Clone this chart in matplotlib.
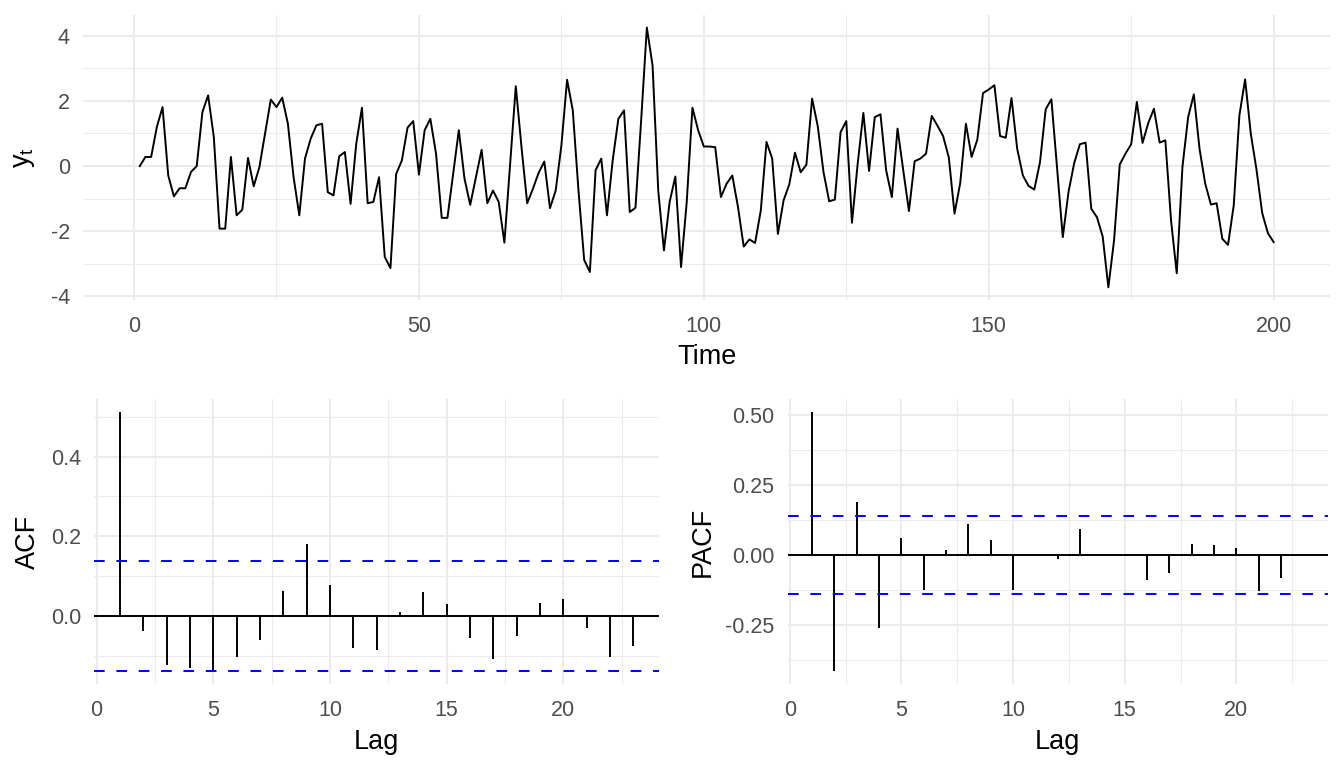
import numpy as np
import matplotlib
matplotlib.use('Agg')
import matplotlib.pyplot as plt
from matplotlib.ticker import MultipleLocator, FixedLocator

plt.rcParams['font.family'] = ['Liberation Sans', 'DejaVu Sans']
plt.rcParams['axes.unicode_minus'] = False
plt.rcParams['mathtext.fontset'] = 'custom'
plt.rcParams['mathtext.rm'] = 'Liberation Sans'

# series y_t, t = 1..200
y_vals = [
    0.0, 0.28, 0.28, 1.2, 1.81, -0.29, -0.93, -0.68, -0.68, -0.18,
    0.0, 1.66, 2.17, 0.89, -1.92, -1.92, 0.28, -1.51, -1.34, 0.25,
    -0.62, -0.03, 1.0, 2.04, 1.81, 2.1, 1.3, -0.34, -1.51, 0.23,
    0.84, 1.25, 1.3, -0.8, -0.9, 0.3, 0.43, -1.16, 0.69, 1.79,
    -1.14, -1.1, -0.34, -2.79, -3.13, -0.24, 0.17, 1.18, 1.38, -0.26,
    1.1, 1.45, 0.38, -1.59, -1.59, -0.24, 1.1, -0.39, -1.19, -0.34,
    0.5, -1.14, -0.75, -1.1, -2.35, 0.07, 2.45, 0.58, -1.14, -0.7,
    -0.21, 0.14, -1.29, -0.75, 0.63, 2.65, 1.71, -0.75, -2.88, -3.25,
    -0.13, 0.23, -1.51, 0.17, 1.45, 1.71, -1.41, -1.28, 1.4, 4.25,
    3.09, -0.75, -2.59, -1.1, -0.32, -3.1, -1.1, 1.79, 1.1, 0.6,
    0.6, 0.58, -0.95, -0.54, -0.29, -1.26, -2.47, -2.25, -2.36, -1.36,
    0.74, 0.23, -2.08, -1.05, -0.56, 0.41, -0.19, 0.04, 2.07, 1.22,
    -0.18, -1.08, -1.03, 1.04, 1.38, -1.74, 0.07, 1.63, -0.15, 1.5,
    1.59, -0.13, -0.95, 1.15, -0.13, -1.38, 0.15, 0.23, 0.38, 1.54,
    1.24, 0.92, 0.26, -1.46, -0.52, 1.3, 0.28, 0.81, 2.24, 2.35,
    2.48, 0.92, 0.87, 2.09, 0.53, -0.29, -0.61, -0.72, 0.12, 1.74,
    2.05, -0.06, -2.18, -0.8, 0.09, 0.67, 0.72, -1.31, -1.57, -2.16,
    -3.72, -2.28, 0.05, 0.38, 0.67, 1.97, 0.71, 1.32, 1.76, 0.72,
    0.79, -1.67, -3.29, -0.03, 1.5, 2.2, 0.53, -0.54, -1.18, -1.14,
    -2.23, -2.42, -1.21, 1.56, 2.66, 0.99, -0.11, -1.44, -2.06, -2.33,
]
time = np.arange(1, len(y_vals) + 1)

lags = np.arange(1, 24)
acf_vals = [0.513, -0.038, -0.124, -0.131, -0.137, -0.103, -0.060, 0.064, 0.182, 0.077,
            -0.081, -0.085, 0.010, 0.061, 0.029, -0.055, -0.108, -0.051, 0.033, 0.044,
            -0.029, -0.103, -0.074]
pacf_vals = [0.512, -0.414, 0.188, -0.258, 0.063, -0.125, 0.020, 0.111, 0.054, -0.123,
             0.0, -0.012, 0.092, 0.0, 0.0, -0.089, -0.065, 0.039, 0.035, 0.025,
             -0.129, -0.083, 0.0]
ci = 1.96 / np.sqrt(len(y_vals))

grid_col = '#EBEBEB'
tick_col = '#4D4D4D'
TICK_FS = 15.5
TITLE_FS = 19.5


def style(ax):
    for s in ax.spines.values():
        s.set_visible(False)
    ax.grid(which='major', color=grid_col, lw=1.5)
    ax.grid(which='minor', color=grid_col, lw=0.8)
    ax.set_axisbelow(True)
    ax.tick_params(which='both', length=0, labelsize=TICK_FS, labelcolor=tick_col)
    ax.tick_params(axis='x', pad=11.5)
    ax.tick_params(axis='y', pad=9.5)


def expand(lo, hi, f=0.05):
    d = (hi - lo) * f
    return lo - d, hi + d


fig = plt.figure(figsize=(13.44, 7.68), dpi=100)

# time series
ax1 = fig.add_axes([0.0618, 0.609, 0.928, 0.372])
ax1.plot(time, y_vals, color='black', lw=1.4)
ax1.set_xlim(*expand(time.min(), time.max()))
ax1.set_ylim(*expand(min(y_vals), max(y_vals)))
ax1.xaxis.set_major_locator(MultipleLocator(50))
ax1.xaxis.set_minor_locator(FixedLocator([25, 75, 125, 175]))
ax1.yaxis.set_major_locator(MultipleLocator(2))
ax1.yaxis.set_minor_locator(FixedLocator([-3, -1, 1, 3]))
style(ax1)
ax1.set_xlabel('Time', fontsize=TITLE_FS, labelpad=4.5)
ax1.set_ylabel(r'$\mathregular{y_t}$', fontsize=TITLE_FS, labelpad=9.5)


def corr_panel(ax, vals, ylab, ymaj, yminor, fmt):
    ax.vlines(lags, 0, vals, color='black', lw=1.4)
    ax.axhline(0, color='black', lw=1.4)
    ax.axhline(ci, color='#0000FF', lw=1.4, ls=(0, (5.5, 6)))
    ax.axhline(-ci, color='#0000FF', lw=1.4, ls=(0, (5.5, 6)))
    ax.set_xlim(*expand(lags.min(), lags.max()))
    ax.set_ylim(*expand(min(min(vals), -ci), max(max(vals), ci)))
    ax.xaxis.set_major_locator(MultipleLocator(5))
    ax.xaxis.set_minor_locator(FixedLocator([2.5, 7.5, 12.5, 17.5, 22.5]))
    ax.yaxis.set_major_locator(FixedLocator(ymaj))
    ax.yaxis.set_minor_locator(FixedLocator(yminor))
    ax.set_yticklabels([fmt.format(v) for v in ymaj])
    style(ax)
    ax.set_xlabel('Lag', fontsize=TITLE_FS, labelpad=5.5)
    ax.set_ylabel(ylab, fontsize=TITLE_FS, labelpad=7)


ax2 = fig.add_axes([0.0702, 0.109, 0.420, 0.372])
corr_panel(ax2, acf_vals, 'ACF', [0.0, 0.2, 0.4], [-0.1, 0.1, 0.3, 0.5], '{:.1f}')

ax3 = fig.add_axes([0.586, 0.109, 0.402, 0.372])
corr_panel(ax3, pacf_vals, 'PACF', [-0.25, 0.0, 0.25, 0.5], [-0.375, -0.125, 0.125, 0.375], '{:.2f}')

fig.savefig('out.png', dpi=100)
